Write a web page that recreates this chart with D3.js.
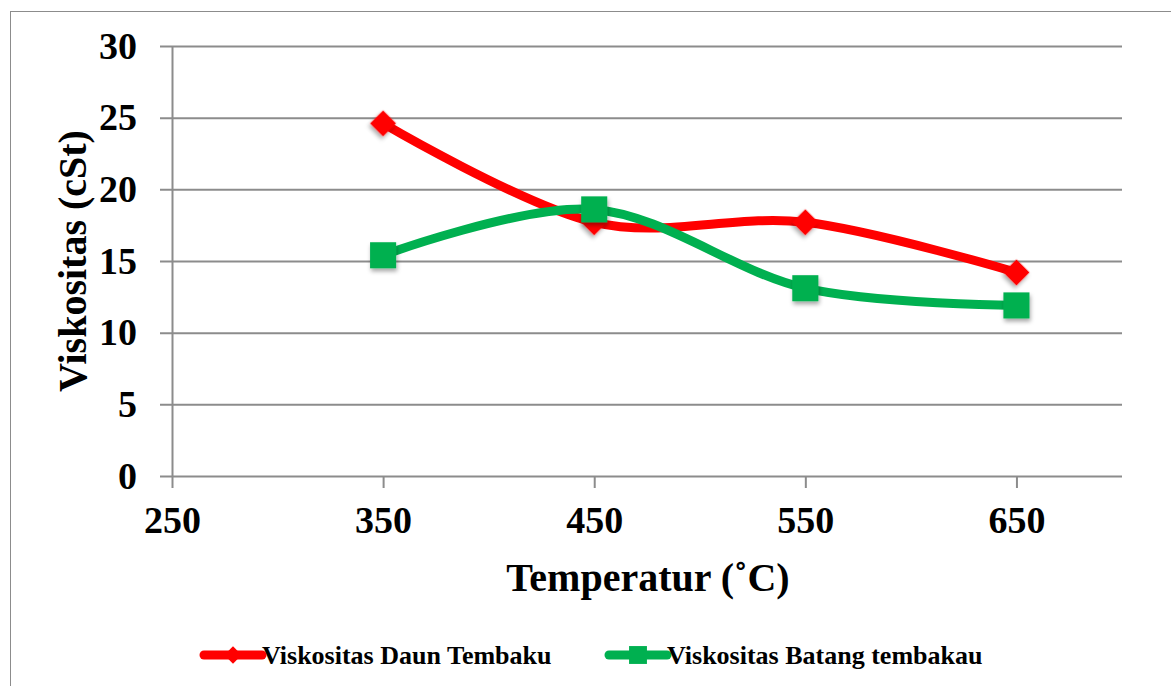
<!DOCTYPE html>
<html>
<head>
<meta charset="utf-8">
<script src="https://cdn.jsdelivr.net/npm/d3@7"></script>
<style>
  body { margin: 0; background: #fff; }
  text { font-family: "Liberation Serif", "Times New Roman", serif; font-weight: bold; }
</style>
</head>
<body>
<svg width="1171" height="686"></svg>
<script>
// data
const temps = [350, 450, 550, 650];
const daun = [24.6, 17.7, 17.7, 14.2];
const batang = [15.4, 18.6, 13.1, 11.9];
const xTicks = [250, 350, 450, 550, 650];
const yTicks = [0, 5, 10, 15, 20, 25, 30];

const svg = d3.select("svg");

// outer chart border
svg.append("rect")
  .attr("x", 10.5).attr("y", 11.5)
  .attr("width", 1175).attr("height", 700)
  .attr("fill", "none").attr("stroke", "#8c8c8c").attr("stroke-width", 1);

const plotL = 172, plotR = 1122, plotT = 46, plotB = 476;

const x = d3.scaleLinear().domain([250, 700]).range([plotL, plotR]);
const y = d3.scaleLinear().domain([0, 30]).range([plotB, plotT]);

// shadow filter for markers
const defs = svg.append("defs");
const f = defs.append("filter").attr("id", "shadow")
  .attr("x", "-50%").attr("y", "-50%").attr("width", "200%").attr("height", "200%");
f.append("feDropShadow").attr("dx", 1).attr("dy", 3).attr("stdDeviation", 2)
  .attr("flood-color", "#000").attr("flood-opacity", 0.35);

/* gridlines */
const gy = svg.append("g").attr("transform", `translate(${plotR},0)`);
gy.call(d3.axisLeft(y).tickValues(yTicks).tickSize(plotR - plotL + 12).tickFormat(""));
gy.select(".domain").remove();
gy.selectAll(".tick line").attr("stroke", "#8c8c8c").attr("stroke-width", 2);

/* y axis */
const gyl = svg.append("g").attr("transform", `translate(${plotL},0)`);
gyl.call(d3.axisLeft(y).tickValues(yTicks).tickSize(0).tickPadding(35));
gyl.select(".domain").attr("stroke", "#8c8c8c").attr("stroke-width", 2);
gyl.selectAll(".tick text")
  .attr("font-size", 38).attr("fill", "#000")
  .attr("font-family", "Liberation Serif").attr("font-weight", "bold");

/* x axis */
const gx = svg.append("g").attr("transform", `translate(0,${plotB})`);
gx.call(d3.axisBottom(x).tickValues(xTicks).tickSize(12).tickSizeOuter(0).tickPadding(18));
gx.select(".domain").remove();
gx.selectAll(".tick line").attr("stroke", "#8c8c8c").attr("stroke-width", 2);
gx.selectAll(".tick text")
  .attr("font-size", 38).attr("fill", "#000")
  .attr("font-family", "Liberation Serif").attr("font-weight", "bold");

/* axis titles */
svg.append("text")
  .attr("transform", `translate(86,${(plotT + plotB) / 2}) rotate(-90)`)
  .attr("text-anchor", "middle")
  .attr("font-size", 40)
  .text("Viskositas (cSt)");

svg.append("text")
  .attr("x", 648).attr("y", 591)
  .attr("text-anchor", "middle")
  .attr("font-size", 40)
  .text("Temperatur (˚C)");

/* series */
const line = d3.line()
  .x((d, i) => x(temps[i]))
  .y(d => y(d))
  .curve(d3.curveCatmullRom.alpha(0));

// diamond drawn as a square turned 45 degrees
const series = [
  { name: "Viskositas Daun Tembaku", values: daun, color: "#ff0000", rot: 45, size: 340, legSize: 150 },
  { name: "Viskositas Batang tembakau", values: batang, color: "#00b050", rot: 0, size: 680, legSize: 320 }
];

series.forEach(s => {
  svg.append("path")
    .attr("d", line(s.values))
    .attr("fill", "none")
    .attr("stroke", s.color)
    .attr("stroke-width", 9)
    .attr("stroke-linecap", "round");
});

series.forEach(s => {
  svg.append("g").selectAll("path")
    .data(s.values)
    .enter()
    .append("path")
    .attr("transform", (d, i) => `translate(${x(temps[i])},${y(d)}) rotate(${s.rot})`)
    .attr("d", d3.symbol().type(d3.symbolSquare).size(s.size))
    .attr("fill", s.color)
    .attr("filter", "url(#shadow)");
});

/* legend */
const legendX = [200, 605];
series.forEach((s, i) => {
  const g = svg.append("g").attr("transform", `translate(${legendX[i]},655)`);
  g.append("line")
    .attr("x1", 4).attr("x2", 62)
    .attr("stroke", s.color).attr("stroke-width", 9).attr("stroke-linecap", "round");
  g.append("path")
    .attr("transform", `translate(33,0) rotate(${s.rot})`)
    .attr("d", d3.symbol().type(d3.symbolSquare).size(s.legSize))
    .attr("fill", s.color);
  g.append("text")
    .attr("x", 62).attr("y", 9)
    .attr("font-size", 26)
    .text(s.name);
});
</script>
</body>
</html>
